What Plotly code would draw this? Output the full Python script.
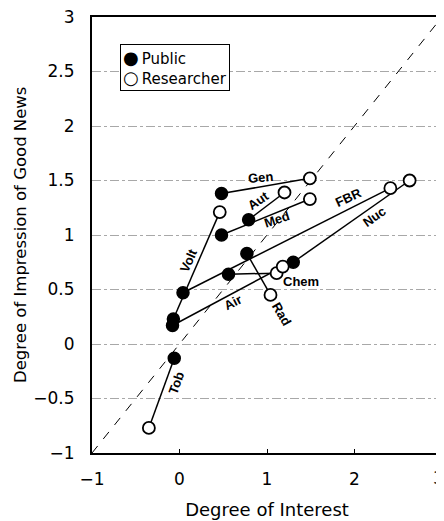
import plotly.graph_objects as go

topics = ["Gen", "Aut", "Med", "Volt", "FBR", "Nuc", "Rad", "Chem", "Air", "Tob"]
public_x = [0.48, 0.79, 0.48, -0.07, 0.04, 1.30, 0.77, 0.56, -0.08, -0.06]
public_y = [1.38, 1.14, 1.00, 0.23, 0.47, 0.75, 0.83, 0.64, 0.17, -0.13]
research_x = [1.49, 1.20, 1.49, 0.46, 2.41, 2.63, 1.04, 1.11, 1.18, -0.35]
research_y = [1.52, 1.39, 1.33, 1.21, 1.43, 1.50, 0.45, 0.65, 0.71, -0.77]

# label anchor points (data coords) and angles
label_x = [0.92, 0.90, 1.11, 0.10, 1.93, 2.23, 1.17, 1.39, 0.61, -0.04]
label_y = [1.53, 1.32, 1.14, 0.77, 1.34, 1.17, 0.27, 0.57, 0.38, -0.36]
label_angle = [-5, -35, -18, -66, -25, -35, 60, 0, -27, -70]

x_ticks = [-1, 0, 1, 2]
x_ticktext = ["\u22121", "0", "1", "2"]
x_last_tick = 3
y_ticks = [-1, -0.5, 0, 0.5, 1, 1.5, 2, 2.5, 3]
y_ticktext = ["\u22121", "\u22120.5", "0", "0.5", "1", "1.5", "2", "2.5", "3"]

FONT = "DejaVu Sans, Arial, sans-serif"
LFONT = "Liberation Sans, Arial, sans-serif"

fig = go.Figure()

# diagonal reference line y = x
fig.add_trace(go.Scatter(x=[-1, 3], y=[-1, 3], mode="lines",
                         line=dict(color="black", width=1, dash="dash"),
                         showlegend=False, hoverinfo="skip"))

for i, t in enumerate(topics):
    fig.add_trace(go.Scatter(x=[public_x[i], research_x[i]],
                             y=[public_y[i], research_y[i]],
                             mode="lines", line=dict(color="black", width=1.5),
                             showlegend=False, hoverinfo="skip"))

fig.add_trace(go.Scatter(x=public_x, y=public_y, mode="markers", name="Public",
                         showlegend=False,
                         marker=dict(size=12, color="black",
                                     line=dict(color="black", width=1.5))))
fig.add_trace(go.Scatter(x=research_x, y=research_y, mode="markers", name="Researcher",
                         showlegend=False,
                         marker=dict(size=12, color="white",
                                     line=dict(color="black", width=1.8))))

for i, t in enumerate(topics):
    fig.add_annotation(x=label_x[i], y=label_y[i], text="<b>" + t + "</b>",
                       textangle=label_angle[i], showarrow=False,
                       font=dict(family=LFONT, size=13, color="black"))

# legend box
fig.add_annotation(xref="paper", yref="paper", x=0.08, y=0.938,
                   xanchor="left", yanchor="top", showarrow=False, align="left",
                   text=("<span style='font-size:18px'>\u25cf</span>\u2009Public<br>"
                         "<span style='font-size:18px'>\u25cb</span>\u2009Researcher"),
                   font=dict(family=FONT, size=15, color="black"),
                   bordercolor="black", borderwidth=1, borderpad=2, bgcolor="white")

# y axis title
fig.add_annotation(xref="paper", yref="paper", x=0, y=0.5, xshift=-72,
                   xanchor="center", yanchor="middle",
                   textangle=-90, showarrow=False,
                   text="Degree of Impression of Good News",
                   font=dict(family=FONT, size=16.5, color="black"))

# last x tick label, nudged to stay inside the page
fig.add_annotation(x=x_last_tick, xref="x", yref="paper", y=0, yshift=-25,
                   xanchor="center", yanchor="middle", xshift=-4, showarrow=False,
                   text=str(x_last_tick), font=dict(family=FONT, size=17, color="black"))

fig.update_layout(
    width=436, height=513,
    margin=dict(l=84, r=2, t=9, b=68, autoexpand=False),
    plot_bgcolor="white", paper_bgcolor="white",
    font=dict(family=FONT, size=17, color="black"),
    showlegend=False,
)
fig.update_xaxes(range=[-1, 3], tickvals=x_ticks, ticktext=x_ticktext,
                 automargin=False, ticklabeloverflow="allow",
                 showgrid=False, zeroline=False,
                 showline=True, linecolor="black", linewidth=2, mirror=True,
                 ticks="inside", ticklen=4, tickcolor="black",
                 ticklabelstandoff=10,
                 title=dict(text="Degree of Interest", font=dict(size=18)))
fig.update_yaxes(range=[-1, 3], tickvals=y_ticks, ticktext=y_ticktext,
                 automargin=False, ticklabeloverflow="allow",
                 showgrid=True, gridcolor="#a8a8a8", gridwidth=1, griddash="dashdot",
                 zeroline=False,
                 showline=True, linecolor="black", linewidth=2, mirror=True,
                 ticks="", ticklabelstandoff=12)

fig.write_html("out.html")
